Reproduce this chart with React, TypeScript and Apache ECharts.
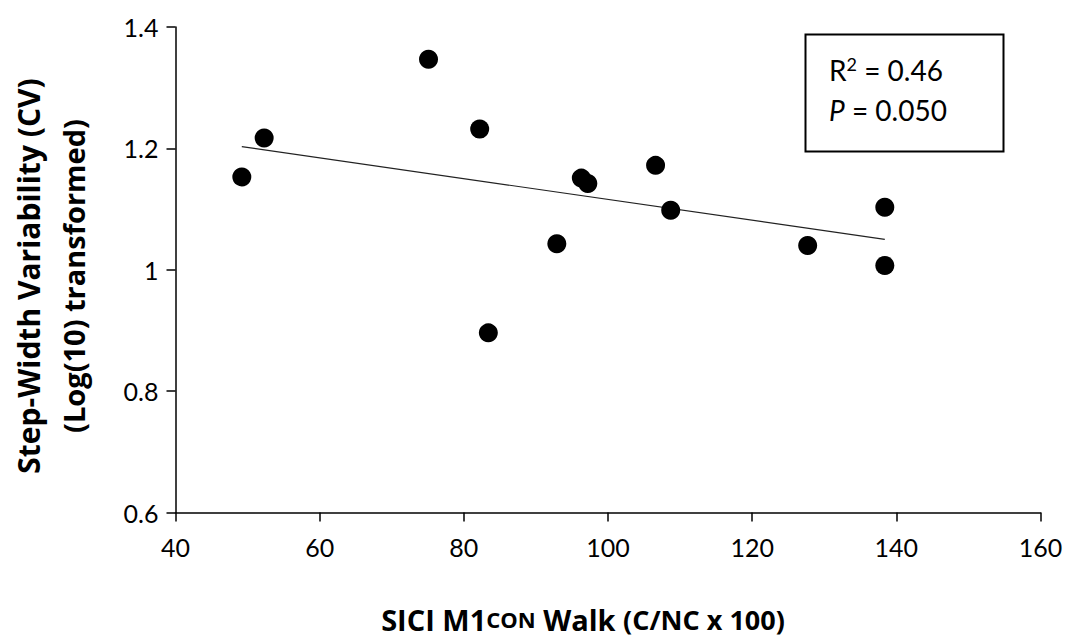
import React, { useEffect, useRef } from "react";
import * as echarts from "echarts";

// SICI M1con walk (C/NC x 100) vs step-width variability (log10 CV)
const siciValues = [49.2, 52.3, 75.1, 82.2, 83.4, 92.9, 96.3, 97.2, 106.6, 108.7, 127.7, 138.4, 138.4];
const stepWidthValues = [1.153, 1.217, 1.347, 1.232, 0.896, 1.043, 1.151, 1.142, 1.172, 1.098, 1.04, 1.103, 1.007];

// Least-squares trend line end points
const trendX = [49.2, 138.4];
const trendY = [1.203, 1.05];

const xTicks = { min: 40, max: 160, interval: 20 };
const yTicks = { min: 0.6, max: 1.4, interval: 0.2 };

const FONT = "Lato, 'Open Sans', sans-serif";
const TITLE_FONT = "'Open Sans', Lato, sans-serif";

export default function App() {
  const ref = useRef<HTMLDivElement>(null);

  useEffect(() => {
    if (!ref.current) return;
    const chart = echarts.init(ref.current, null, { renderer: "svg" });

    const points = siciValues.map((x, i) => [x, stepWidthValues[i]]);
    const trend = trendX.map((x, i) => [x, trendY[i]]);

    chart.setOption({
      animation: false,
      backgroundColor: "#ffffff",
      textStyle: { fontFamily: FONT },
      grid: { left: 175.5, right: 28.5, top: 27, bottom: 128.5, containLabel: false },
      xAxis: {
        type: "value",
        min: xTicks.min,
        max: xTicks.max,
        interval: xTicks.interval,
        splitLine: { show: false },
        axisLine: { show: true, onZero: false, lineStyle: { color: "#000", width: 1.5 } },
        axisTick: { show: true, inside: false, length: 9, lineStyle: { color: "#000", width: 1.5 } },
        axisLabel: { color: "#000", fontSize: 25, fontFamily: FONT, margin: 22 },
      },
      yAxis: {
        type: "value",
        min: yTicks.min,
        max: yTicks.max,
        interval: yTicks.interval,
        splitLine: { show: false },
        axisLine: { show: true, onZero: false, lineStyle: { color: "#000", width: 1.5 } },
        axisTick: { show: true, inside: false, length: 9, lineStyle: { color: "#000", width: 1.5 } },
        axisLabel: {
          color: "#000",
          fontSize: 25,
          fontFamily: FONT,
          margin: 17,
          formatter: (v: number) => String(Math.round(v * 10) / 10),
        },
      },
      series: [
        {
          type: "line",
          data: trend,
          symbol: "none",
          lineStyle: { color: "#222", width: 1.2 },
          z: 2,
        },
        {
          type: "scatter",
          data: points,
          symbol: "circle",
          symbolSize: 19,
          itemStyle: { color: "#000", opacity: 1 },
          z: 3,
        },
      ],
      graphic: [
        {
          type: "text",
          x: 28,
          y: 276,
          rotation: Math.PI / 2,
          style: {
            text: "Step-Width Variability (CV)",
            font: `bold 30px ${TITLE_FONT}`,
            fill: "#000",
            align: "center",
            verticalAlign: "middle",
          },
        },
        {
          type: "text",
          x: 73,
          y: 276,
          rotation: Math.PI / 2,
          style: {
            text: "(Log(10) transformed)",
            font: `bold 29px ${TITLE_FONT}`,
            fill: "#000",
            align: "center",
            verticalAlign: "middle",
          },
        },
        {
          type: "text",
          x: 583,
          y: 619,
          style: {
            text: "{b|SICI M1}{s|CON}{b| Walk }{c|(C/NC x 100)}",
            align: "center",
            verticalAlign: "middle",
            rich: {
              b: { font: `bold 29px ${TITLE_FONT}`, fill: "#000", lineHeight: 30 },
              s: { font: `bold 22px ${TITLE_FONT}`, fill: "#000", lineHeight: 30 },
              c: { font: `bold 27px ${TITLE_FONT}`, fill: "#000", lineHeight: 30 },
            },
          },
        },
        {
          type: "rect",
          shape: { x: 805.5, y: 34.5, width: 198, height: 117 },
          style: { fill: "#fff", stroke: "#000", lineWidth: 2 },
          z: 10,
        },
        {
          type: "text",
          x: 829,
          y: 70,
          z: 11,
          style: {
            text: "{n|R}{sup|2}{n| = 0.46}",
            verticalAlign: "middle",
            rich: {
              n: { font: `28px ${FONT}`, fill: "#000" },
              sup: { font: `18px ${FONT}`, fill: "#000", verticalAlign: "top", padding: [0, 0, 12, 0] },
            },
          },
        },
        {
          type: "text",
          x: 829,
          y: 110,
          z: 11,
          style: {
            text: "{i|P}{n| = 0.050}",
            verticalAlign: "middle",
            rich: {
              n: { font: `28px ${FONT}`, fill: "#000" },
              i: { font: `italic 28px ${FONT}`, fill: "#000" },
            },
          },
        },
      ],
    });

    return () => chart.dispose();
  }, []);

  return (
    <div
      ref={ref}
      style={{ position: "absolute", left: 0, top: 0, width: 1069, height: 641, background: "#fff" }}
    />
  );
}
